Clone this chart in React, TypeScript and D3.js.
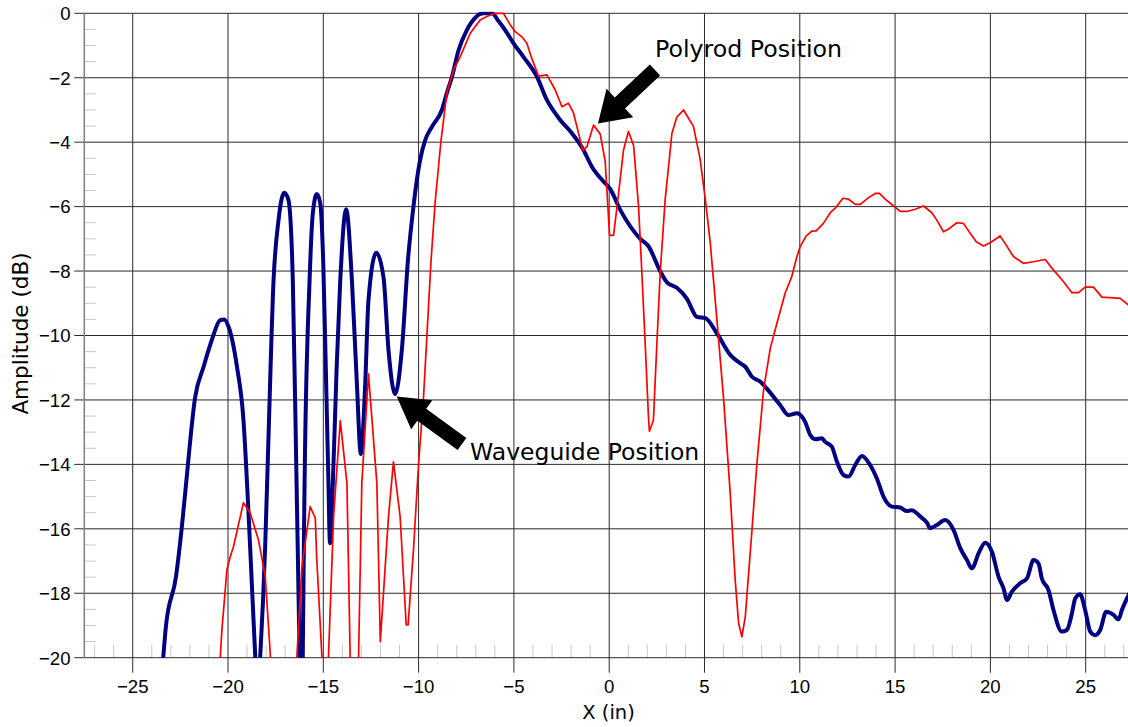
import React from "react";
import * as d3 from "d3";

const W = 1128;
const H = 727;

// Axis ticks
const xTickValues = [-25, -20, -15, -10, -5, 0, 5, 10, 15, 20, 25];
const yTickValues = [0, -2, -4, -6, -8, -10, -12, -14, -16, -18, -20];

// Waveguide-position scan (thick navy trace)
const waveguideX = [
  -23.55, -23.4, -23.26, -22.73, -22.42, -22.2, -21.72, -21.28, -20.85, -20.41, -20.2, -19.97, -19.53, -19.19,
  -19.01, -18.84, -18.57, -18.45, -18.31, -18.05, -17.87, -17.61, -17.35, -17.05, -16.83, -16.6, -16.42,
  -16.33, -16.24, -16.15, -16.08, -16.02, -15.98, -15.72, -15.55, -15.34, -15.16, -15.0, -14.85, -14.74,
  -14.65, -14.5, -14.3, -14.11, -13.8, -13.5, -13.24, -13.03, -12.8, -12.63, -12.22, -11.84, -11.58,
  -11.23, -10.88, -10.55, -10.27, -10.09, -9.92, -9.65, -9.3, -8.78, -8.52, -8.25, -7.9, -7.47, -7.0,
  -6.6, -6.15, -5.8, -5.46, -5.02, -4.5, -3.79, -3.27, -2.57, -1.96, -1.35, -0.91, -0.3, 0.05, 0.58,
  1.63, 2.06, 2.68, 3.03, 3.55, 4.08, 4.6, 5.04, 5.65, 6.35, 6.87, 7.14, 7.49, 7.92, 8.27, 8.97, 9.41,
  9.85, 10.28, 10.55, 10.81, 11.16, 11.33, 11.68, 11.95, 12.29, 12.56, 12.91, 13.26, 13.69, 14.04,
  14.39, 14.83, 15.27, 15.62, 15.88, 16.32, 16.67, 16.84, 17.19, 17.63, 18.07, 18.42, 18.77, 19.03,
  19.38, 19.73, 20.08, 20.43, 20.69, 20.87, 21.13, 21.56, 21.92, 22.26, 22.52, 22.7, 23.05, 23.31,
  23.75, 24.01, 24.28, 24.45, 24.71, 24.97, 25.24, 25.5, 25.76, 26.08, 26.46, 26.72, 26.9, 27.3,
];
const waveguideY = [
  -21.0, -20.0, -19.04, -17.49, -15.93, -14.6, -11.9, -10.97, -10.14, -9.52, -9.5, -9.73, -10.97, -12.62,
  -14.48, -16.55, -19.97, -21.3, -19.97, -16.55, -13.04, -8.28, -6.42, -5.57, -5.79, -8.28, -14.0,
  -17.0, -20.0, -21.5, -20.0, -16.5, -14.48, -8.28, -6.21, -5.61, -5.9, -7.8, -11.5, -14.3,
  -16.45, -14.59, -11.0, -8.28, -6.08, -8.28, -11.48, -13.68, -11.48, -8.9, -7.43, -8.2, -10.45,
  -11.82, -10.45, -7.6, -6.0, -5.17, -4.55, -3.93, -3.52, -3.0, -2.48, -1.97, -1.14, -0.52, -0.12,
  0.0, 0.0, -0.25, -0.52, -0.93, -1.35, -1.97, -2.69, -3.31, -3.72, -4.24, -4.76, -5.22, -5.45, -6.1,
  -7.0, -7.23, -8.01, -8.35, -8.52, -8.86, -9.42, -9.46, -9.93, -10.6, -10.86, -10.97, -11.28, -11.43, -11.65, -12.16, -12.47,
  -12.41, -12.68, -13.09, -13.22, -13.19, -13.3, -13.45, -13.92, -14.33, -14.38, -14.02, -13.74, -14.02, -14.43,
  -15.0, -15.31, -15.34, -15.45, -15.42, -15.62, -15.81, -15.98, -15.88, -15.73, -16.04, -16.6, -16.97, -17.23,
  -16.76, -16.43, -16.71, -17.49, -17.85, -18.21, -17.95, -17.69, -17.54, -16.97, -17.07, -17.54, -17.9, -18.52,
  -19.19, -19.14, -18.62, -18.16, -18.03, -18.52, -19.19, -19.3, -19.14, -18.57, -18.67, -18.81, -18.52, -18.0,
];

// Polyrod-position scan (thin red trace)
const polyrodX = [
  -20.55, -20.41, -20.32, -20.06, -19.88, -19.71, -19.19, -18.84, -18.4, -18.05, -17.79, -17.7, -16.5,
  -16.39, -16.12, -15.69, -15.42, -15.35, -15.07, -14.9, -14.73, -14.46, -14.11, -13.76, -13.59, -13.37,
  -13.15, -12.98, -12.63, -12.19, -12.01, -11.58, -11.32, -10.97, -10.65, -10.55, -10.27, -10.0, -9.74,
  -9.35, -9.13, -8.83, -8.52, -8.17, -7.82, -7.29, -6.77, -6.42, -5.98, -5.55, -5.19, -4.93, -4.58,
  -4.32, -4.06, -3.71, -3.27, -2.83, -2.48, -2.14, -1.87, -1.61, -1.38, -1.17, -0.82, -0.47, -0.21,
  0.02, 0.23, 0.49, 0.75, 1.01, 1.28, 1.54, 1.71, 1.89, 2.06, 2.11, 2.32, 2.5, 2.68, 2.94, 3.29, 3.55,
  3.9, 4.42, 4.77, 5.04, 5.3, 5.65, 6.0, 6.35, 6.61, 6.79, 6.96, 7.14, 7.49, 7.75, 8.1, 8.45, 8.8,
  9.23, 9.58, 9.85, 10.02, 10.34, 10.63, 10.86, 11.24, 11.6, 11.86, 12.26, 12.56, 12.91, 13.17, 13.61,
  13.96, 14.18, 14.48, 14.92, 15.27, 15.62, 16.06, 16.49, 16.93, 17.19, 17.54, 17.8, 18.24, 18.59,
  18.94, 19.26, 19.64, 19.99, 20.51, 20.77, 21.21, 21.73, 22.26, 22.88, 23.23, 23.84, 24.28, 24.63,
  24.97, 25.41, 25.85, 26.46, 26.81, 27.3,
];
const polyrodY = [
  -21.0, -20.0, -19.14, -17.28, -16.86, -16.55, -15.19, -15.5, -16.35, -17.45, -19.8, -21.0, -21.0,
  -20.0, -17.18, -15.31, -15.67, -16.86, -20.0, -21.0, -20.0, -15.62, -12.64, -14.59, -20.0, -21.0,
  -20.0, -14.59, -11.19, -14.59, -19.5, -15.62, -13.92, -15.62, -18.98, -18.98, -16.66, -13.97, -11.9,
  -7.7, -5.85, -3.98, -2.48, -1.76, -1.35, -0.62, -0.21, -0.1, 0.0, 0.0, -0.36, -0.57, -0.73,
  -0.93, -1.4, -1.95, -1.91, -2.38, -2.9, -2.79, -3.1, -3.72, -4.26, -4.14, -3.47, -3.75, -4.6,
  -6.89, -6.89, -5.6, -4.25, -3.67, -4.1, -5.99, -8.01, -10.27, -12.52, -12.97, -12.63, -10.27, -8.01, -5.76, -3.73, -3.22,
  -3.0, -3.51, -4.52, -5.76, -7.11, -9.5, -11.95, -14.9, -17.59, -18.93, -19.35, -18.73, -16.04, -13.97, -11.69, -10.4, -9.62,
  -8.69, -8.17, -7.55, -7.24, -6.91, -6.76, -6.75, -6.52, -6.19, -6.05, -5.74, -5.77, -5.93, -5.93, -5.72,
  -5.59, -5.59, -5.77, -5.98, -6.15, -6.15, -6.08, -5.98, -6.19, -6.42, -6.78, -6.7, -6.5, -6.52,
  -6.83, -7.09, -7.22, -7.12, -6.91, -7.14, -7.55, -7.76, -7.71, -7.64, -7.91, -8.33, -8.67, -8.67,
  -8.5, -8.5, -8.81, -8.83, -8.85, -9.08,
];

// Annotation labels
const polyrodLabel = "Polyrod Position";
const waveguideLabel = "Waveguide Position";

const PLOT = { left: 84.3, right: 1128, top: 13.3, bottom: 657.7 };

const x = d3.scaleLinear().domain([-27.54, 27.22]).range([PLOT.left, PLOT.right]);
const y = d3.scaleLinear().domain([-20, 0]).range([PLOT.bottom, PLOT.top]);

type Pt = [number, number];
const zip = (xs: number[], ys: number[]): Pt[] => xs.map((v, i) => [v, ys[i]]);

const blueLine = d3
  .line<Pt>()
  .x((d) => x(d[0]))
  .y((d) => y(d[1]))
  .curve(d3.curveMonotoneX);
const redLine = d3
  .line<Pt>()
  .x((d) => x(d[0]))
  .y((d) => y(d[1]))
  .curve(d3.curveLinear);

// Filled block arrow from tail to tip
function arrowPath(tx: number, ty: number, hx: number, hy: number, shaftHalf: number, headHalf: number, headLen: number) {
  const dx = hx - tx;
  const dy = hy - ty;
  const len = Math.hypot(dx, dy);
  const ux = dx / len;
  const uy = dy / len;
  const nx = -uy;
  const ny = ux;
  const bx = hx - ux * headLen;
  const by = hy - uy * headLen;
  const pts: Pt[] = [
    [tx + nx * shaftHalf, ty + ny * shaftHalf],
    [bx + nx * shaftHalf, by + ny * shaftHalf],
    [bx + nx * headHalf, by + ny * headHalf],
    [hx, hy],
    [bx - nx * headHalf, by - ny * headHalf],
    [bx - nx * shaftHalf, by - ny * shaftHalf],
    [tx - nx * shaftHalf, ty - ny * shaftHalf],
  ];
  return "M" + pts.map((p) => p.join(",")).join("L") + "Z";
}

const fmt = (v: number) => (v < 0 ? "\u2212" + Math.abs(v) : String(v));

export default function App() {
  const minorX = d3.range(-27, 28).filter((v) => v % 5 !== 0);
  const minorY = d3.range(0, -20.01, -0.5).filter((v) => Math.abs(v % 2) > 0.01);
  const gridColor = "#2a2a2a";
  const tickFont = "'Liberation Sans', Arial, sans-serif";
  const labelFont = "'DejaVu Sans', Verdana, sans-serif";

  return (
    <svg
      width={W}
      height={H}
      viewBox={`0 0 ${W} ${H}`}
      style={{ position: "absolute", left: 0, top: 0, background: "#fff" }}
    >
      <defs>
        <clipPath id="plot-clip">
          <rect x={PLOT.left} y={PLOT.top - 1.5} width={PLOT.right - PLOT.left} height={PLOT.bottom - PLOT.top + 1.5} />
        </clipPath>
      </defs>
      <rect x={0} y={0} width={W} height={H} fill="#fff" />

      {/* minor ticks */}
      {minorX.map((v) => (
        <line key={"mx" + v} x1={x(v)} x2={x(v)} y1={PLOT.bottom} y2={PLOT.bottom - 13} stroke="#c8c8c8" strokeWidth={1} />
      ))}
      {minorY.map((v) => (
        <line key={"my" + v} x1={PLOT.left} x2={PLOT.left + 11.5} y1={y(v)} y2={y(v)} stroke="#c8c8c8" strokeWidth={1} />
      ))}

      {/* grid */}
      {xTickValues.map((v) => (
        <line key={"gx" + v} x1={x(v)} x2={x(v)} y1={PLOT.top} y2={PLOT.bottom + 15} stroke={gridColor} strokeWidth={1} />
      ))}
      {yTickValues.map((v) => (
        <line key={"gy" + v} x1={PLOT.left - 10} x2={PLOT.right} y1={y(v)} y2={y(v)} stroke={gridColor} strokeWidth={1} />
      ))}
      <line x1={PLOT.left} x2={PLOT.left} y1={PLOT.top} y2={PLOT.bottom} stroke="#808080" strokeWidth={1.5} />

      {/* tick labels */}
      {xTickValues.map((v) => (
        <text key={"tx" + v} x={x(v)} y={693.3} textAnchor="middle" fontFamily={tickFont} fontSize={18.6} fill="#000">
          {fmt(v)}
        </text>
      ))}
      {yTickValues.map((v) => (
        <text key={"ty" + v} x={70.5} y={y(v) + 6.8} textAnchor="end" fontFamily={tickFont} fontSize={18.6} fill="#000">
          {fmt(v)}
        </text>
      ))}

      {/* axis titles */}
      <text x={608.5} y={718.5} textAnchor="middle" fontFamily={labelFont} fontSize={19.5} fill="#000">
        X (in)
      </text>
      <text
        transform={`translate(28, ${333.5}) rotate(-90)`}
        textAnchor="middle"
        fontFamily={labelFont}
        fontSize={21.5}
        fill="#000"
      >
        Amplitude (dB)
      </text>

      {/* traces */}
      <g clipPath="url(#plot-clip)">
        <path d={blueLine(zip(waveguideX, waveguideY)) || ""} fill="none" stroke="#000080" strokeWidth={4} strokeLinejoin="round" />
        <path d={redLine(zip(polyrodX, polyrodY)) || ""} fill="none" stroke="#ff0000" strokeWidth={1.7} strokeLinejoin="round" />
      </g>

      {/* annotations */}
      <path d={arrowPath(655, 70, 598, 123.5, 7.5, 19.5, 30)} fill="#000" />
      <path d={arrowPath(462, 444, 396.7, 396.5, 7.5, 18, 31)} fill="#000" />
      <text x={655} y={56.5} fontFamily={labelFont} fontSize={23.7} fill="#000">
        {polyrodLabel}
      </text>
      <text x={470} y={459.5} fontFamily={labelFont} fontSize={23.5} fill="#000">
        {waveguideLabel}
      </text>
    </svg>
  );
}
